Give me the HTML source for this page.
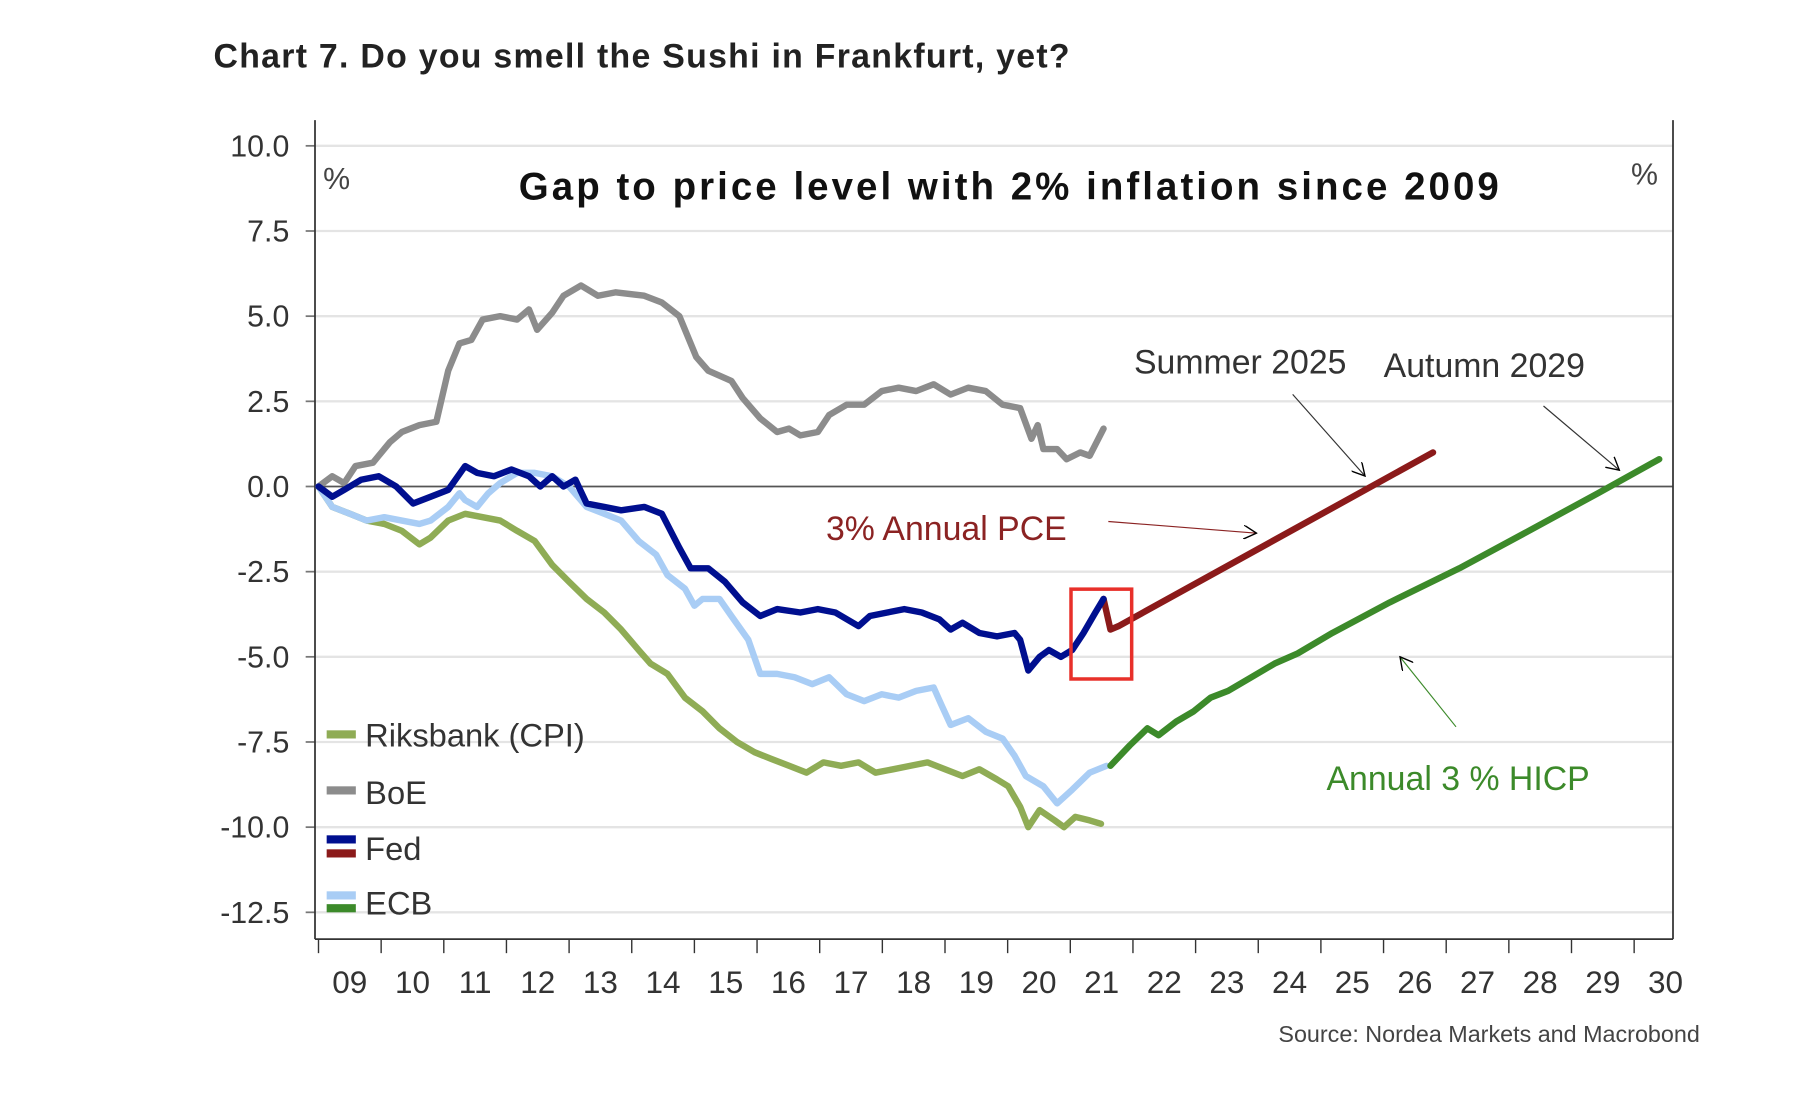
<!DOCTYPE html>
<html><head><meta charset="utf-8"><style>
html,body{margin:0;padding:0;background:#fff;}
svg{display:block;font-family:"Liberation Sans",sans-serif;}
</style></head><body>
<svg id="chart" width="1820" height="1118" viewBox="0 0 1560 958.3" preserveAspectRatio="none" xmlns="http://www.w3.org/2000/svg">
<defs><marker id="ah" markerWidth="12" markerHeight="12" refX="11" refY="6" orient="auto" markerUnits="userSpaceOnUse"><path d="M0,0 L11,6 L0,12" fill="none" stroke="currentColor" stroke-width="1.2"/></marker></defs>
<text x="183" y="58" font-size="29" font-weight="bold" fill="#222" letter-spacing="1.1">Chart 7. Do you smell the Sushi in Frankfurt, yet?</text>
<g id="grid"></g>
<g id="axes"></g>
<g id="series"></g>
<text x="866" y="171" font-size="33" font-weight="bold" text-anchor="middle" fill="#111" letter-spacing="2.6">Gap to price level with 2% inflation since 2009</text>
<text x="277" y="162" font-size="26" fill="#444">%</text>
<text x="1398" y="158" font-size="26" fill="#444">%</text>
<rect x="918" y="505" width="52" height="77" fill="none" stroke="#e8302a" stroke-width="3"/>
<text x="972" y="320" font-size="29" fill="#333">Summer 2025</text>
<line x1="1108" y1="338" x2="1170" y2="408" stroke="#333" color="#333" stroke-width="1" marker-end="url(#ah)"/>
<text x="1186" y="323" font-size="29" fill="#333">Autumn 2029</text>
<line x1="1323" y1="348" x2="1388" y2="403" stroke="#333" color="#333" stroke-width="1" marker-end="url(#ah)"/>
<text x="708" y="463" font-size="29" fill="#8b2323">3% Annual PCE</text>
<line x1="950" y1="447" x2="1077" y2="457" stroke="#8b2323" color="#8b2323" stroke-width="1" marker-end="url(#ah)"/>
<text x="1137" y="677" font-size="29" fill="#3c8a2a">Annual 3 % HICP</text>
<line x1="1248" y1="623" x2="1200" y2="563" stroke="#3c8a2a" color="#3c8a2a" stroke-width="1" marker-end="url(#ah)"/>
<g font-size="28" fill="#333">
<g><rect x="280" y="626" width="25" height="7" fill="#8fac55"/><text x="313" y="640">Riksbank (CPI)</text></g>
<g><rect x="280" y="674" width="25" height="7" fill="#8c8c8c"/><text x="313" y="689">BoE</text></g>
<g><rect x="280" y="716" width="25" height="7" fill="#000f8f"/><rect x="280" y="728" width="25" height="7" fill="#8b1a1a"/><text x="313" y="737">Fed</text></g>
<g><rect x="280" y="764" width="25" height="7" fill="#a9cdf5"/><rect x="280" y="775" width="25" height="7" fill="#3c8a2a"/><text x="313" y="784">ECB</text></g>
</g>
<text x="1457" y="893" font-size="20" text-anchor="end" fill="#444">Source: Nordea Markets and Macrobond</text>
</svg>
<script>
const yTicks=[10,7.5,5,2.5,0,-2.5,-5,-7.5,-10,-12.5];
const yTickLabels=["10.0","7.5","5.0","2.5","0.0","-2.5","-5.0","-7.5","-10.0","-12.5"];
const xYears=[2009,2010,2011,2012,2013,2014,2015,2016,2017,2018,2019,2020,2021,2022,2023,2024,2025,2026,2027,2028,2029,2030];
const xLabels=["09","10","11","12","13","14","15","16","17","18","19","20","21","22","23","24","25","26","27","28","29","30"];

const boeDates=[2009.00,2009.22,2009.41,2009.59,2009.87,2010.14,2010.33,2010.61,2010.88,2011.07,2011.25,2011.44,2011.62,2011.90,2012.17,2012.36,2012.49,2012.73,2012.91,2013.19,2013.46,2013.74,2014.20,2014.48,2014.76,2015.03,2015.22,2015.59,2015.77,2016.05,2016.32,2016.51,2016.69,2016.97,2017.15,2017.43,2017.71,2017.99,2018.26,2018.54,2018.82,2019.09,2019.37,2019.65,2019.92,2020.20,2020.38,2020.48,2020.57,2020.79,2020.94,2021.16,2021.31,2021.53];
const boeValues=[0,0.3,0.1,0.6,0.7,1.3,1.6,1.8,1.9,3.4,4.2,4.3,4.9,5.0,4.9,5.2,4.6,5.1,5.6,5.9,5.6,5.7,5.6,5.4,5.0,3.8,3.4,3.1,2.6,2.0,1.6,1.7,1.5,1.6,2.1,2.4,2.4,2.8,2.9,2.8,3.0,2.7,2.9,2.8,2.4,2.3,1.4,1.8,1.1,1.1,0.8,1.0,0.9,1.7];

const fedDates=[2009.00,2009.22,2009.41,2009.68,2009.96,2010.24,2010.51,2010.79,2011.07,2011.34,2011.53,2011.80,2012.08,2012.36,2012.54,2012.73,2012.91,2013.10,2013.28,2013.56,2013.83,2014.20,2014.48,2014.76,2014.94,2015.22,2015.49,2015.77,2016.05,2016.32,2016.69,2016.97,2017.25,2017.62,2017.80,2018.08,2018.35,2018.63,2018.91,2019.09,2019.28,2019.55,2019.83,2020.11,2020.20,2020.33,2020.51,2020.66,2020.85,2021.03,2021.21,2021.40,2021.53];
const fedValues=[0,-0.3,-0.1,0.2,0.3,0,-0.5,-0.3,-0.1,0.6,0.4,0.3,0.5,0.3,0.0,0.3,0,0.2,-0.5,-0.6,-0.7,-0.6,-0.8,-1.8,-2.4,-2.4,-2.8,-3.4,-3.8,-3.6,-3.7,-3.6,-3.7,-4.1,-3.8,-3.7,-3.6,-3.7,-3.9,-4.2,-4.0,-4.3,-4.4,-4.3,-4.5,-5.4,-5.0,-4.8,-5.0,-4.8,-4.3,-3.7,-3.3];

const pceDates=[2021.53,2021.64,2021.77,2026.79];
const pceValues=[-3.3,-4.2,-4.1,1.0];

const ecbDates=[2009.00,2009.22,2009.50,2009.77,2010.05,2010.33,2010.61,2010.79,2011.07,2011.25,2011.34,2011.53,2011.71,2011.90,2012.17,2012.45,2012.73,2012.82,2013.00,2013.28,2013.56,2013.83,2014.11,2014.39,2014.57,2014.85,2015.00,2015.13,2015.40,2015.59,2015.86,2016.05,2016.32,2016.60,2016.88,2017.15,2017.43,2017.71,2017.99,2018.26,2018.54,2018.82,2018.94,2019.09,2019.37,2019.65,2019.92,2020.11,2020.29,2020.57,2020.79,2021.03,2021.31,2021.58];
const ecbValues=[0,-0.6,-0.8,-1.0,-0.9,-1.0,-1.1,-1.0,-0.6,-0.2,-0.4,-0.6,-0.2,0.1,0.4,0.4,0.3,0.2,0.0,-0.6,-0.8,-1.0,-1.6,-2.0,-2.6,-3.0,-3.5,-3.3,-3.3,-3.8,-4.5,-5.5,-5.5,-5.6,-5.8,-5.6,-6.1,-6.3,-6.1,-6.2,-6.0,-5.9,-6.4,-7.0,-6.8,-7.2,-7.4,-7.9,-8.5,-8.8,-9.3,-8.9,-8.4,-8.2];

const hicpDates=[2021.64,2021.95,2022.23,2022.41,2022.69,2022.97,2023.24,2023.52,2023.89,2024.26,2024.63,2025.18,2026.10,2027.21,2028.32,2029.42,2030.40];
const hicpValues=[-8.2,-7.6,-7.1,-7.3,-6.9,-6.6,-6.2,-6.0,-5.6,-5.2,-4.9,-4.3,-3.4,-2.4,-1.3,-0.2,0.8];

const riksDates=[2009.00,2009.22,2009.50,2009.77,2010.05,2010.33,2010.61,2010.79,2011.07,2011.34,2011.62,2011.90,2012.17,2012.45,2012.73,2013.00,2013.28,2013.56,2013.83,2014.11,2014.30,2014.57,2014.85,2015.13,2015.40,2015.68,2015.96,2016.23,2016.51,2016.79,2017.06,2017.34,2017.62,2017.89,2018.17,2018.45,2018.72,2019.00,2019.28,2019.55,2019.83,2020.01,2020.20,2020.33,2020.51,2020.75,2020.90,2021.08,2021.31,2021.49];
const riksValues=[0,-0.6,-0.8,-1.0,-1.1,-1.3,-1.7,-1.5,-1.0,-0.8,-0.9,-1.0,-1.3,-1.6,-2.3,-2.8,-3.3,-3.7,-4.2,-4.8,-5.2,-5.5,-6.2,-6.6,-7.1,-7.5,-7.8,-8.0,-8.2,-8.4,-8.1,-8.2,-8.1,-8.4,-8.3,-8.2,-8.1,-8.3,-8.5,-8.3,-8.6,-8.8,-9.4,-10.0,-9.5,-9.8,-10.0,-9.7,-9.8,-9.9];

const NS="http://www.w3.org/2000/svg";
const X0=273,XW=53.7,Y0=417,YU=29.2,XR=1434;
function xs(t){return X0+(t-2009)*XW;}
function ys(v){return Y0-v*YU;}
function mk(tag,attrs,parent){const e=document.createElementNS(NS,tag);for(const k in attrs)e.setAttribute(k,attrs[k]);parent.appendChild(e);return e;}
const grid=document.getElementById('grid'),axes=document.getElementById('axes'),series=document.getElementById('series');
yTicks.forEach((v,i)=>{
  const g=mk('line',{x1:270,x2:XR,y1:ys(v),y2:ys(v),stroke:v===0?'#555':'#e4e4e4','stroke-width':v===0?1.5:2},grid);
  
  
  const t=mk('line',{x1:262,x2:270,y1:ys(v),y2:ys(v),stroke:'#777','stroke-width':1.5},axes);
  
  
  const l=mk('text',{x:248,y:ys(v)+9,'text-anchor':'end','font-size':26,fill:'#333'},axes);
  
  
  l.textContent=yTickLabels[i];
});
const ya=mk('line',{x1:270,x2:270,y1:103,y2:805,stroke:'#333','stroke-width':1.5},axes);


const ra=mk('line',{x1:XR,x2:XR,y1:103,y2:805,stroke:'#333','stroke-width':1.5},axes);


const xa=mk('line',{x1:270,x2:XR,y1:805,y2:805,stroke:'#333','stroke-width':1.5},axes);


xYears.forEach((yr,i)=>{
  const t=mk('line',{x1:xs(yr),x2:xs(yr),y1:805,y2:817,stroke:'#333','stroke-width':1.2},axes);
  
  
  const l=mk('text',{x:xs(yr+0.5),y:851,'text-anchor':'middle','font-size':27,fill:'#333'},axes);
  
  
  l.textContent=xLabels[i];
});
function line(dates,vals,color,name){
  const d=dates.map((t,i)=>(i?'L':'M')+xs(t).toFixed(1)+','+ys(vals[i]).toFixed(1)).join(' ');
  const p=mk('path',{d:d,fill:'none',stroke:color,'stroke-width':5.5,'stroke-linejoin':'round','stroke-linecap':'round'},series);
  
  
}
line(riksDates,riksValues,'#8fac55','riksbank-line');
line(boeDates,boeValues,'#8c8c8c','boe-line');
line(ecbDates,ecbValues,'#a9cdf5','ecb-line');
line(hicpDates,hicpValues,'#3c8a2a','hicp-projection-line');
line(pceDates,pceValues,'#8b1a1a','pce-projection-line');
line(fedDates,fedValues,'#000f8f','fed-line');
</script>
</body></html>
